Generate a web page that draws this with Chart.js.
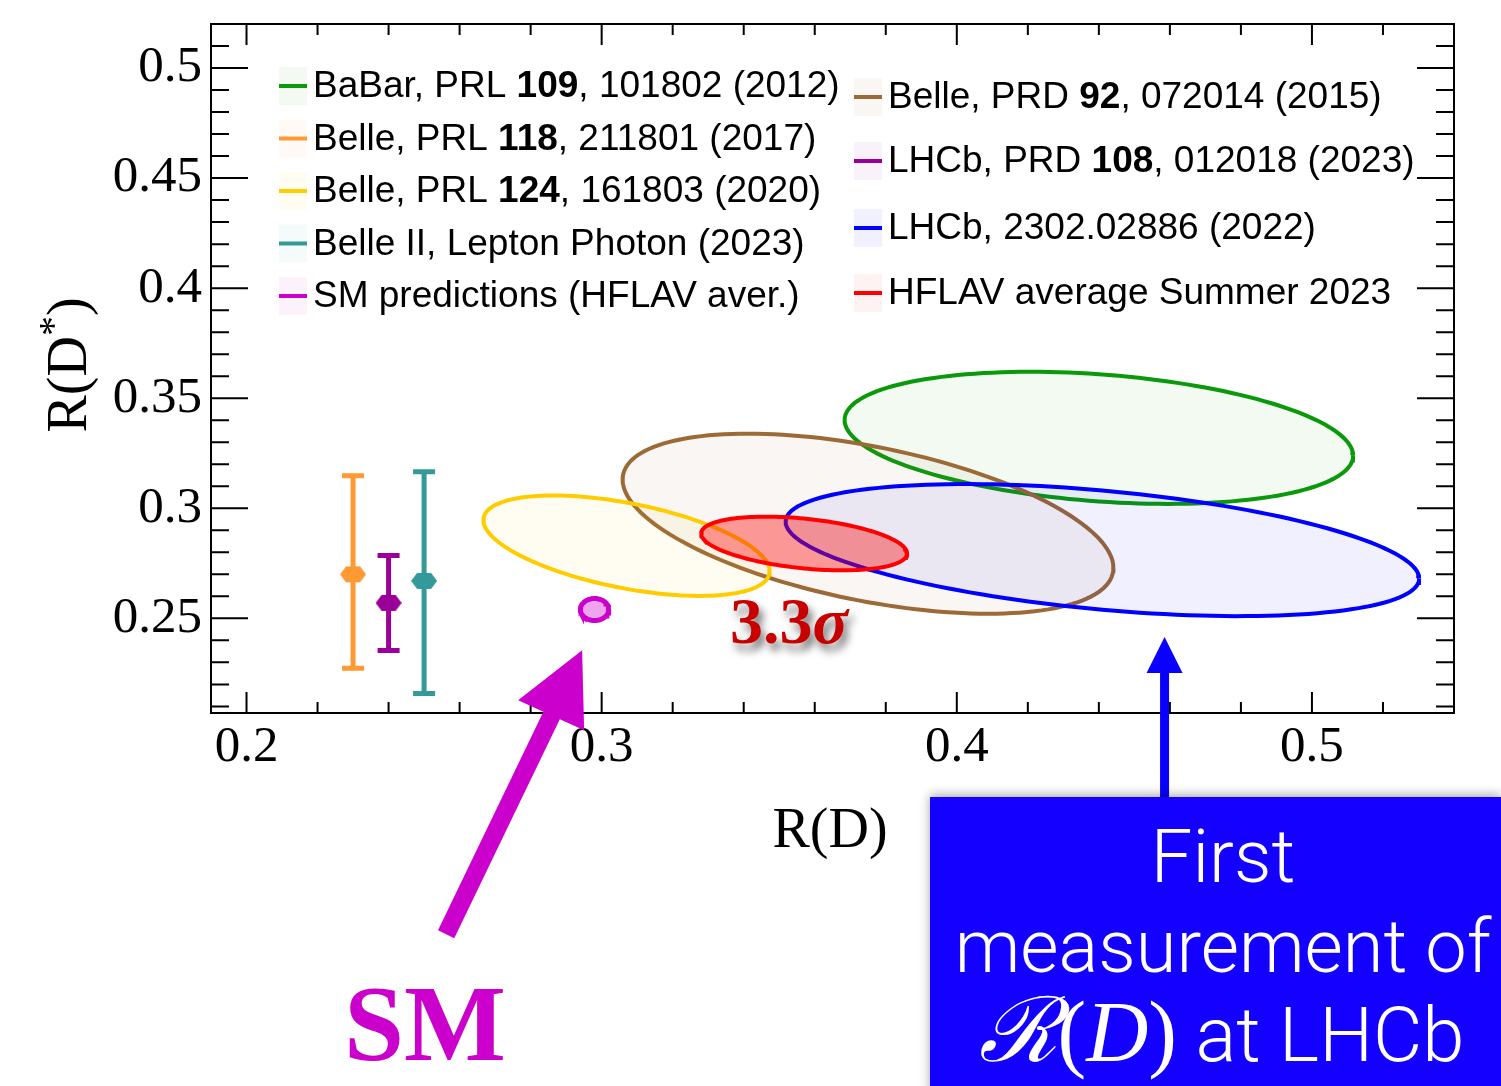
<!DOCTYPE html>
<html>
<head>
<meta charset="utf-8">
<script src="https://cdn.jsdelivr.net/npm/chart.js@4.4.0/dist/chart.umd.min.js"></script>
<style>
html, body { margin: 0; padding: 0; background: #fff; }
#wrap { width: 1501px; height: 1086px; }
</style>
</head>
<body>
<div id="wrap"><canvas id="rdChart" width="1501" height="1086"></canvas></div>
<script>
// 2D measurements R(D), R(D*) : value, total error, correlation
const ellNames  = ['BaBar 2012', 'Belle 2015', 'Belle 2020', 'LHCb 2022', 'HFLAV avg 2023'];
const ellRD     = [0.440, 0.375, 0.307, 0.441, 0.357];
const ellRDerr  = [0.0716, 0.0691, 0.0403, 0.0892, 0.029];
const ellRDs    = [0.332, 0.293, 0.283, 0.281, 0.284];
const ellRDserr = [0.030, 0.0409, 0.0228, 0.030, 0.0122];
const ellCorr   = [-0.27, -0.49, -0.51, -0.43, -0.37];
const ellLine   = ['#0a990a', '#9c6a37', '#ffcc00', '#0000ff', '#ff0000'];
const ellFill   = ['rgba(0,153,0,0.05)', 'rgba(153,102,51,0.06)', 'rgba(255,204,0,0.05)', 'rgba(0,0,255,0.06)', 'rgba(255,0,0,0.38)'];

// SM prediction
const smRD = 0.298, smRDerr = 0.004, smRDs = 0.254, smRDserr = 0.005, smCorr = 0.0;

// R(D*)-only measurements (drawn at arbitrary R(D) positions)
const barNames = ['Belle 2017', 'LHCb 2023', 'Belle II 2023'];
const barX     = [0.23, 0.24, 0.25];
const barY     = [0.270, 0.257, 0.267];
const barUp    = [0.0448, 0.0216, 0.0496];
const barDn    = [0.0427, 0.0216, 0.0511];
const barColor = ['#ff9933', '#990099', '#339999'];

const xTicks = [0.2, 0.3, 0.4, 0.5];
const yTicks = [0.25, 0.3, 0.35, 0.4, 0.45, 0.5];

// legend: [normal, bold, normal]
const legendText = [
  ['BaBar, PRL ', '109', ', 101802 (2012)'],
  ['Belle, PRL ', '118', ', 211801 (2017)'],
  ['Belle, PRL ', '124', ', 161803 (2020)'],
  ['Belle II, Lepton Photon (2023)', '', ''],
  ['SM predictions (HFLAV aver.)', '', ''],
  ['Belle, PRD ', '92', ', 072014 (2015)'],
  ['LHCb, PRD ', '108', ', 012018 (2023)'],
  ['LHCb, 2302.02886 (2022)', '', ''],
  ['HFLAV average Summer 2023', '', '']
];
const legendColor = ['#0a990a', '#ff9933', '#ffcc00', '#339999', '#cc00cc', '#9c6a37', '#990099', '#0000ff', '#ff0000'];
const legendFill  = ['rgba(0,153,0,0.05)', 'rgba(255,153,51,0.05)', 'rgba(255,204,0,0.05)', 'rgba(51,153,153,0.05)', 'rgba(204,0,204,0.05)',
                     'rgba(153,102,51,0.06)', 'rgba(153,0,153,0.05)', 'rgba(0,0,255,0.06)', 'rgba(255,0,0,0.05)'];

const SERIF = '"Liberation Serif", "Times New Roman", serif';
const SANS = '"Liberation Sans", Arial, sans-serif';

function contour(cx, cy, sx, sy, rho, n) {
  const pts = [];
  const s = Math.sqrt(1 - rho * rho);
  for (let i = 0; i <= n; i++) {
    const t = 2 * Math.PI * i / n;
    pts.push({ x: cx + sx * Math.cos(t), y: cy + sy * (rho * Math.cos(t) + s * Math.sin(t)) });
  }
  return pts;
}

function markerCanvas(color) {
  const c = document.createElement('canvas');
  c.width = 26; c.height = 18;
  const g = c.getContext('2d');
  g.fillStyle = color;
  g.beginPath();
  g.moveTo(0, 9); g.lineTo(6, 1); g.lineTo(20, 1); g.lineTo(26, 9); g.lineTo(20, 17); g.lineTo(6, 17);
  g.closePath(); g.fill();
  return c;
}

const datasets = [];
ellNames.forEach((name, i) => {
  datasets.push({
    label: name,
    data: contour(ellRD[i], ellRDs[i], ellRDerr[i], ellRDserr[i], ellCorr[i], 160),
    showLine: true,
    fill: 'shape',
    backgroundColor: ellFill[i],
    borderColor: ellLine[i],
    borderWidth: 4,
    pointRadius: 0,
    tension: 0,
    order: 20 - i
  });
});
datasets.push({
  label: 'SM',
  data: contour(smRD, smRDs, smRDerr, smRDserr, smCorr, 60),
  showLine: true,
  fill: 'shape',
  backgroundColor: 'rgba(204,0,204,0.35)',
  borderColor: '#cc00cc',
  borderWidth: 5,
  pointRadius: 0,
  order: 5
});
barNames.forEach((name, i) => {
  datasets.push({
    label: name,
    data: [{ x: barX[i], y: barY[i] }],
    pointStyle: markerCanvas(barColor[i]),
    pointRadius: 13,
    order: 1
  });
});

const framePlugin = {
  id: 'frame',
  beforeDatasetsDraw(chart) {
    // error bars
    const { ctx, scales: { x, y } } = chart;
    ctx.save();
    ctx.lineWidth = 5;
    barX.forEach((bx, i) => {
      const px = x.getPixelForValue(bx);
      const pt = y.getPixelForValue(barY[i] + barUp[i]);
      const pb = y.getPixelForValue(barY[i] - barDn[i]);
      ctx.strokeStyle = barColor[i];
      ctx.beginPath();
      ctx.moveTo(px, pt); ctx.lineTo(px, pb);
      ctx.moveTo(px - 11, pt); ctx.lineTo(px + 11, pt);
      ctx.moveTo(px - 11, pb); ctx.lineTo(px + 11, pb);
      ctx.stroke();
    });
    ctx.restore();
  },
  afterDatasetsDraw(chart) {
    const { ctx, chartArea: a, scales: { x, y } } = chart;
    ctx.save();
    ctx.strokeStyle = '#000';
    ctx.lineWidth = 2;
    ctx.strokeRect(a.left, a.top, a.right - a.left, a.bottom - a.top);
    ctx.beginPath();
    for (let k = 10; k < 27; k++) {
      const px = x.getPixelForValue(k * 0.02);
      const len = k % 5 === 0 ? 21 : 11;
      ctx.moveTo(px, a.bottom); ctx.lineTo(px, a.bottom - len);
      ctx.moveTo(px, a.top); ctx.lineTo(px, a.top + len);
    }
    for (let k = 21; k < 52; k++) {
      const py = y.getPixelForValue(k * 0.01);
      const len = k % 5 === 0 ? 37 : 18;
      ctx.moveTo(a.left, py); ctx.lineTo(a.left + len, py);
      ctx.moveTo(a.right, py); ctx.lineTo(a.right - len, py);
    }
    ctx.stroke();
    ctx.restore();
  },
  afterDraw(chart) {
    const { ctx, scales: { x, y } } = chart;
    ctx.save();

    // legend
    ctx.textBaseline = 'middle';
    legendText.forEach((parts, i) => {
      const right = i >= 5;
      const bx = right ? 854 : 279;
      const cy = right ? [97, 161, 228, 293][i - 5] : 86 + (i * 52.5);
      ctx.fillStyle = legendFill[i];
      ctx.fillRect(bx, cy - 19, 28, 38);
      ctx.strokeStyle = legendColor[i];
      ctx.lineWidth = 4;
      ctx.beginPath(); ctx.moveTo(bx, cy); ctx.lineTo(bx + 28, cy); ctx.stroke();
      let tx = bx + 34;
      ctx.fillStyle = '#000';
      parts.forEach((p, j) => {
        if (!p) return;
        ctx.font = (j === 1 ? 'bold ' : '') + '37px ' + SANS;
        ctx.fillText(p, tx, cy + 1);
        tx += ctx.measureText(p).width;
      });
    });

    // axis titles
    ctx.fillStyle = '#000';
    ctx.textBaseline = 'alphabetic';
    ctx.font = '56px ' + SERIF;
    ctx.textAlign = 'center';
    ctx.fillText('R(D)', 830, 847);
    ctx.save();
    ctx.translate(86, 365);
    ctx.rotate(-Math.PI / 2);
    ctx.textAlign = 'left';
    const w1 = ctx.measureText('R(D').width;
    ctx.font = '40px ' + SERIF;
    const w2 = ctx.measureText('*').width;
    ctx.font = '56px ' + SERIF;
    const w3 = ctx.measureText(')').width;
    let sx0 = -(w1 + w2 + w3) / 2;
    ctx.fillText('R(D', sx0, 0);
    ctx.font = '40px ' + SERIF;
    ctx.fillText('*', sx0 + w1, -20);
    ctx.font = '56px ' + SERIF;
    ctx.fillText(')', sx0 + w1 + w2, 0);
    ctx.restore();

    // 3.3 sigma label
    ctx.save();
    ctx.shadowColor = 'rgba(0,0,0,0.55)';
    ctx.shadowBlur = 8;
    ctx.shadowOffsetX = 4;
    ctx.shadowOffsetY = 7;
    ctx.fillStyle = '#c80000';
    ctx.textAlign = 'left';
    ctx.font = 'bold 66px ' + SERIF;
    ctx.fillText('3.3', 730, 643);
    const w33 = ctx.measureText('3.3').width;
    ctx.font = 'italic bold 66px ' + SERIF;
    ctx.fillText('σ', 730 + w33, 643);
    ctx.restore();

    // SM arrow
    const tipX = x.getPixelForValue(0.2945), tipY = y.getPixelForValue(0.2355);
    ctx.fillStyle = '#cc00cc';
    ctx.strokeStyle = '#cc00cc';
    ctx.lineWidth = 18;
    ctx.beginPath();
    ctx.moveTo(tipX - 136, tipY + 284);
    ctx.lineTo(tipX - 28, tipY + 60);
    ctx.stroke();
    ctx.beginPath();
    ctx.moveTo(tipX, tipY);
    ctx.lineTo(tipX - 64, tipY + 50);
    ctx.lineTo(tipX + 2, tipY + 80);
    ctx.closePath();
    ctx.fill();
    ctx.font = 'bold 108px ' + SERIF;
    ctx.textAlign = 'center';
    ctx.fillText('SM', 425, 1060);

    // blue arrow
    const bTipX = x.getPixelForValue(0.4585), bTipY = y.getPixelForValue(0.2415);
    ctx.fillStyle = '#0a00ff';
    ctx.fillRect(bTipX - 4.5, bTipY + 30, 9, 136);
    ctx.beginPath();
    ctx.moveTo(bTipX, bTipY);
    ctx.lineTo(bTipX - 18, bTipY + 36);
    ctx.lineTo(bTipX + 18, bTipY + 36);
    ctx.closePath();
    ctx.fill();

    // blue box
    ctx.save();
    ctx.shadowColor = 'rgba(0,0,0,0.35)';
    ctx.shadowBlur = 10;
    ctx.shadowOffsetY = -2;
    ctx.fillStyle = '#1400ff';
    ctx.fillRect(930, 797, 571, 300);
    ctx.restore();
    ctx.fillStyle = '#fff';
    ctx.textAlign = 'center';
    ctx.font = '300 74px Roboto, ' + SANS;
    ctx.fillText('First', 1223, 882);
    ctx.fillText('measurement of', 1223, 972);
    // third line: script R (D) at LHCb
    ctx.textAlign = 'left';
    const segs = [
      ['ℛ', 'italic 90px "DejaVu Serif", serif'],
      ['(', '86px ' + SERIF],
      ['D', 'italic 86px ' + SERIF],
      [')', '86px ' + SERIF],
      [' at LHCb', '300 76px Roboto, ' + SANS]
    ];
    let tot = 0;
    segs.forEach(s => { ctx.font = s[1]; tot += ctx.measureText(s[0]).width; });
    let lx = 1222 - tot / 2;
    segs.forEach(s => { ctx.font = s[1]; ctx.fillText(s[0], lx, 1061); lx += ctx.measureText(s[0]).width; });

    ctx.restore();
  }
};

const tickFont = { family: SERIF, size: 51 };
new Chart(document.getElementById('rdChart').getContext('2d'), {
  type: 'scatter',
  data: { datasets },
  options: {
    responsive: false,
    animation: false,
    devicePixelRatio: 1,
    layout: { padding: { left: 0, top: 24, right: 47, bottom: 0 } },
    plugins: { legend: { display: false }, tooltip: { enabled: false } },
    scales: {
      x: {
        type: 'linear', min: 0.19, max: 0.54,
        grid: { display: false, drawTicks: false }, border: { display: false },
        afterBuildTicks: s => { s.ticks = xTicks.map(v => ({ value: v })); },
        afterFit: s => { s.height = 373; s.paddingLeft = 0; s.paddingRight = 0; },
        ticks: { autoSkip: false, maxRotation: 0, padding: 4, color: '#000', font: tickFont, callback: v => String(v) }
      },
      y: {
        type: 'linear', min: 0.207, max: 0.52,
        grid: { display: false, drawTicks: false }, border: { display: false },
        afterBuildTicks: s => { s.ticks = yTicks.map(v => ({ value: v })); },
        afterFit: s => { s.width = 211; s.paddingTop = 0; s.paddingBottom = 0; },
        ticks: { autoSkip: false, padding: 9, color: '#000', font: tickFont, callback: v => String(v) }
      }
    }
  },
  plugins: [framePlugin]
});
</script>
</body>
</html>
